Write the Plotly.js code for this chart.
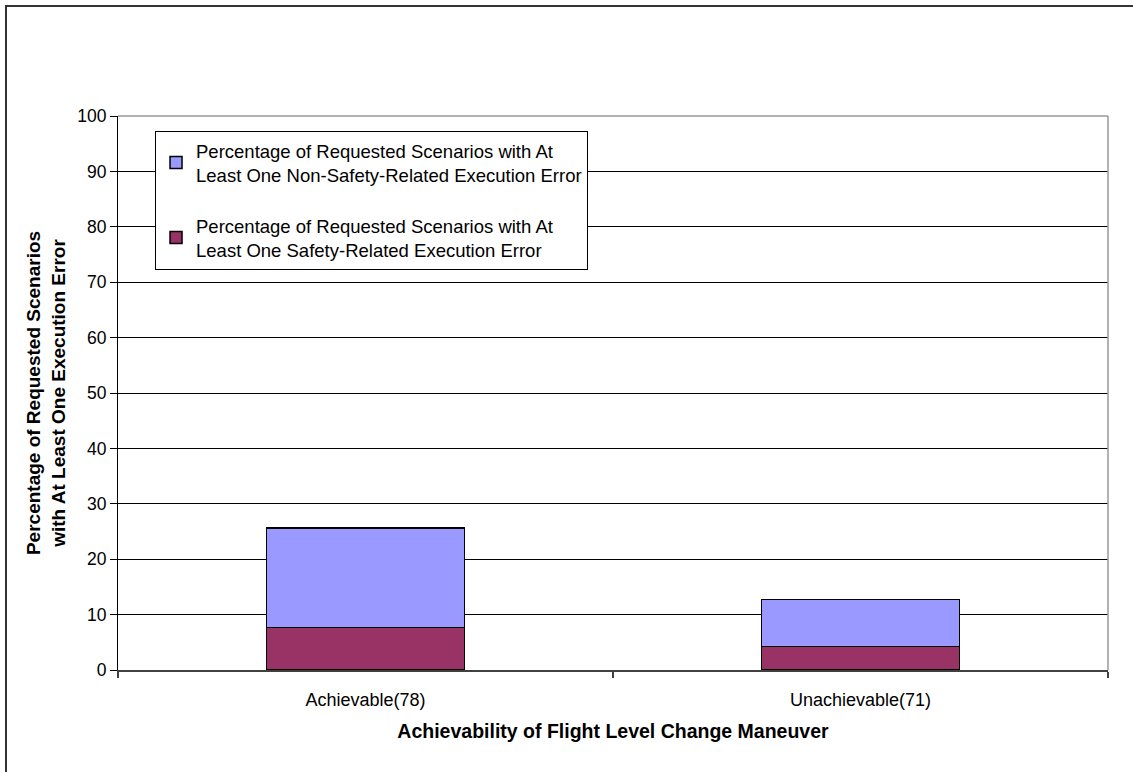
<!DOCTYPE html>
<html>
<head>
<meta charset="utf-8">
<script src="https://cdn.plot.ly/plotly-3.0.1.min.js"></script>
<style>
  html, body { margin: 0; padding: 0; background: #fff; }
  #wrap { position: relative; width: 1133px; height: 772px; overflow: hidden; }
  #chart { width: 1133px; height: 772px; }
  #frame { position: absolute; left: 5px; top: 5px; width: 1200px; height: 900px;
           border-left: 2px solid #333; border-top: 2px solid #333; pointer-events: none; }
</style>
</head>
<body>
<div id="wrap">
  <div id="chart"></div>
  <div id="frame"></div>
</div>
<script>
const categories = ["Achievable(78)", "Unachievable(71)"];
const safetyRelated = [7.7, 4.2];
const nonSafetyRelated = [17.9, 8.5];
const seriesNames = [
  "Percentage of Requested Scenarios with At<br>Least One Safety-Related Execution Error",
  "Percentage of Requested Scenarios with At<br>Least One Non-Safety-Related Execution Error"
];
const yTicks = [0, 10, 20, 30, 40, 50, 60, 70, 80, 90, 100];

const font = "Liberation Sans, Arial, sans-serif";

const traces = [
  {
    type: "bar", x: categories, y: safetyRelated, name: seriesNames[0],
    legendgroup: "a", legendrank: 2, width: 0.4,
    marker: { color: "#993366", line: { color: "#000", width: 1.5 } }
  },
  {
    type: "bar", x: categories, y: nonSafetyRelated, name: seriesNames[1],
    legendgroup: "b", legendrank: 1, width: 0.4,
    marker: { color: "#9999FF", line: { color: "#000", width: 1.5 } }
  }
];

const layout = {
  width: 1133, height: 772,
  margin: { l: 118, r: 25, t: 116, b: 102 },
  paper_bgcolor: "#fff", plot_bgcolor: "#fff",
  barmode: "stack",
  font: { family: font, size: 18, color: "#000" },
  showlegend: true,
  legend: {
    x: 0.0374, y: 0.973, xanchor: "left", yanchor: "top",
    bgcolor: "#fff", bordercolor: "#000", borderwidth: 1,
    traceorder: "grouped", tracegroupgap: 24,
    font: { family: font, size: 18.5, color: "#000" }
  },
  xaxis: {
    type: "category",
    tickson: "boundaries",
    ticks: "outside", ticklen: 6, tickcolor: "#404040", tickwidth: 1.5,
    ticklabelstandoff: 12,
    showline: true, linecolor: "#404040", linewidth: 2,
    showgrid: false, zeroline: false,
    tickfont: { family: font, size: 18 },
    title: { text: "<b>Achievability of Flight Level Change Maneuver</b>",
             font: { family: font, size: 19.5 }, standoff: 16 }
  },
  yaxis: {
    range: [0, 100],
    tickvals: yTicks,
    ticks: "outside", ticklen: 7, tickcolor: "#000",
    showline: true, linecolor: "#000", linewidth: 1,
    showgrid: true, gridcolor: "#000", gridwidth: 1,
    zeroline: false,
    tickfont: { family: font, size: 17.5 },
    title: { text: "<b>Percentage of Requested Scenarios<br>with At Least One Execution Error</b>",
             font: { family: font, size: 19 }, standoff: 6 }
  },
  shapes: [
    { type: "line", xref: "paper", yref: "paper", x0: 0, x1: 1, y0: 1, y1: 1,
      line: { color: "#999", width: 1.5 } },
    { type: "line", xref: "paper", yref: "paper", x0: 1, x1: 1, y0: 0, y1: 1,
      line: { color: "#999", width: 1.5 } }
  ]
};

Plotly.newPlot("chart", traces, layout, { displayModeBar: false, staticPlot: true });
</script>
</body>
</html>
